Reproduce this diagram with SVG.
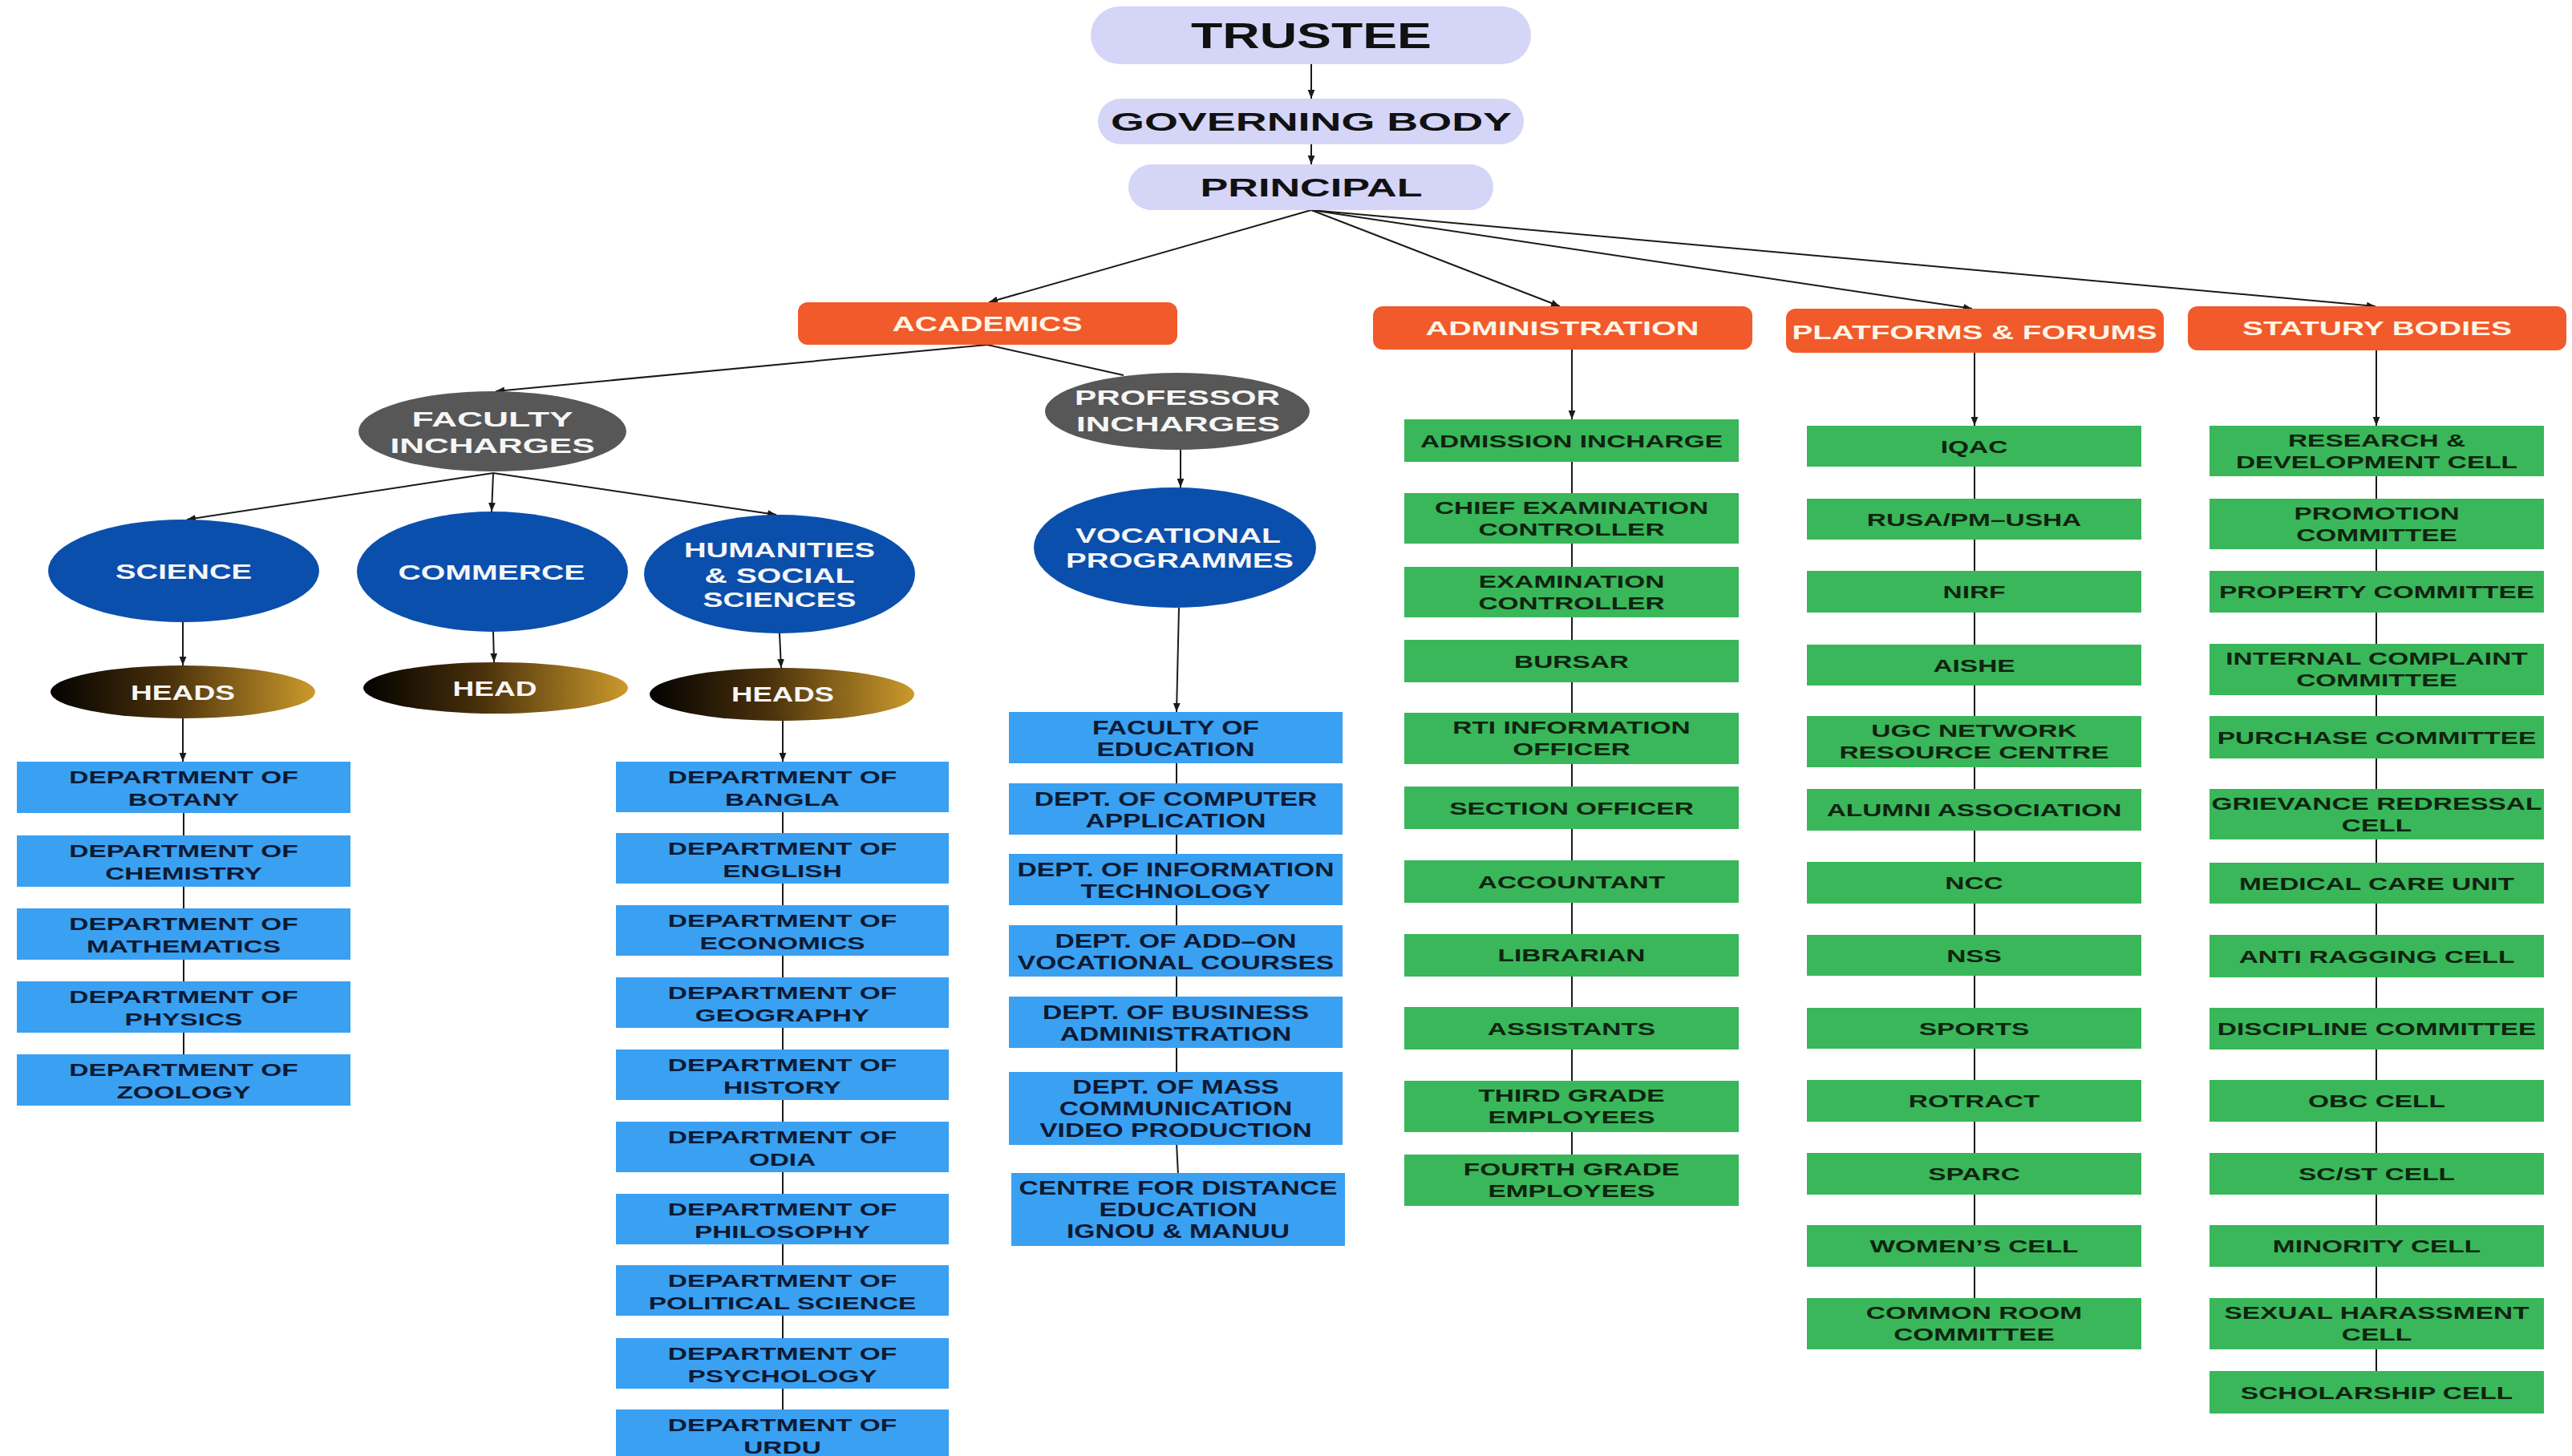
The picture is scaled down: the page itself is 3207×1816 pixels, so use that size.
<svg xmlns="http://www.w3.org/2000/svg" width="3207" height="1816" viewBox="0 0 3207 1816">
<defs>
<marker id="ah" viewBox="0 0 10 10" refX="10" refY="5" markerWidth="11" markerHeight="11" markerUnits="userSpaceOnUse" orient="auto"><path d="M0,1 L10,5 L0,9 z" fill="#1a1a1a"/></marker>
<linearGradient id="hg" x1="0" y1="0" x2="1" y2="0"><stop offset="0" stop-color="#030201"/><stop offset="0.45" stop-color="#4a310b"/><stop offset="1" stop-color="#cc9a2c"/></linearGradient>
</defs>
<style>
.ln{stroke:#1a1a1a;stroke-width:2;fill:none}
.ar{marker-end:url(#ah)}
.pill{fill:#d5d5f7}
.org{fill:#f15a2b}
.gry{fill:#575757}
.blu{fill:#0b4fad}
.hd{fill:url(#hg)}
.lb{fill:#3aa0f2}
.gr{fill:#3ab75a}
text{font-family:"Liberation Sans",Arial,sans-serif;font-weight:bold;text-anchor:middle}
.tp{font-size:32px;fill:#111}
.to{font-size:24px;fill:#fff5e6}
.te{font-size:26px;fill:#f6f6f6}
.tb{font-size:22px;fill:#0c1a33}
.tv{font-size:24px;fill:#0c1a33}
.tg{font-size:22px;fill:#0f2410}
</style>
<rect width="3207" height="1816" fill="#ffffff"/>

<g id="connectors">
<line class="ln ar" x1="1635" y1="80" x2="1635" y2="123"/>
<line class="ln ar" x1="1635" y1="180" x2="1635" y2="205"/>
<line class="ln ar" x1="1635" y1="262" x2="1233" y2="377"/>
<line class="ln ar" x1="1635" y1="262" x2="1945" y2="382"/>
<line class="ln ar" x1="1635" y1="262" x2="2459" y2="385"/>
<line class="ln ar" x1="1635" y1="262" x2="2962" y2="382"/>
<line class="ln ar" x1="1231" y1="430" x2="618" y2="488"/>
<line class="ln" x1="1231" y1="430" x2="1401" y2="468"/>
<line class="ln ar" x1="615" y1="590" x2="233" y2="648"/>
<line class="ln ar" x1="615" y1="590" x2="613" y2="638"/>
<line class="ln ar" x1="615" y1="590" x2="968" y2="642"/>
<line class="ln ar" x1="1472" y1="561" x2="1472" y2="608"/>
<line class="ln ar" x1="1470" y1="758" x2="1467" y2="888"/>
<line class="ln ar" x1="228" y1="776" x2="228" y2="830"/>
<line class="ln ar" x1="228" y1="896" x2="228" y2="950"/>
<line class="ln" x1="229" y1="1010" x2="229" y2="1320"/>
<line class="ln ar" x1="615" y1="788" x2="616" y2="826"/>
<line class="ln ar" x1="972" y1="790" x2="974" y2="833"/>
<line class="ln ar" x1="976" y1="899" x2="976" y2="950"/>
<line class="ln" x1="976" y1="1008" x2="976" y2="1816"/>
<line class="ln" x1="1467" y1="948" x2="1467" y2="1340"/>
<line class="ln" x1="1467" y1="1425" x2="1469" y2="1466"/>
<line class="ln ar" x1="1960" y1="436" x2="1960" y2="523"/>
<line class="ln" x1="1960" y1="572" x2="1960" y2="1444"/>
<line class="ln ar" x1="2462" y1="440" x2="2462" y2="531"/>
<line class="ln" x1="2462" y1="578" x2="2462" y2="1622"/>
<line class="ln ar" x1="2963" y1="437" x2="2963" y2="531"/>
<line class="ln" x1="2963" y1="590" x2="2963" y2="1714"/>
</g>

<g id="trustee"><rect class="pill" x="1360" y="8" width="549" height="72" rx="36"/><text x="1635" y="60" style="font-size:44px;fill:#111" textLength="300" lengthAdjust="spacingAndGlyphs">TRUSTEE</text></g>
<g id="governing-body"><rect class="pill" x="1369" y="123" width="531" height="57" rx="28.5"/><text class="tp" x="1635" y="163" textLength="500" lengthAdjust="spacingAndGlyphs">GOVERNING BODY</text></g>
<g id="principal"><rect class="pill" x="1407" y="205" width="455" height="57" rx="28.5"/><text class="tp" x="1635" y="245" textLength="277" lengthAdjust="spacingAndGlyphs">PRINCIPAL</text></g>

<g id="academics"><rect class="org" x="995" y="377" width="473" height="53" rx="12"/><text class="to" style="font-size:25px" x="1231" y="413" textLength="237" lengthAdjust="spacingAndGlyphs">ACADEMICS</text></g>
<g id="administration"><rect class="org" x="1712" y="382" width="473" height="54" rx="12"/><text class="to" x="1948" y="418" textLength="341" lengthAdjust="spacingAndGlyphs">ADMINISTRATION</text></g>
<g id="platforms-forums"><rect class="org" x="2227" y="385" width="471" height="55" rx="12"/><text class="to" x="2462" y="423" textLength="455" lengthAdjust="spacingAndGlyphs">PLATFORMS &amp; FORUMS</text></g>
<g id="statury-bodies"><rect class="org" x="2728" y="382" width="472" height="55" rx="12"/><text class="to" x="2964" y="418" textLength="336" lengthAdjust="spacingAndGlyphs">STATURY BODIES</text></g>

<g id="faculty-incharges"><ellipse class="gry" cx="614" cy="538" rx="167" ry="50"/><text class="te" x="614" y="532" textLength="201" lengthAdjust="spacingAndGlyphs">FACULTY</text><text class="te" x="614" y="565" textLength="255" lengthAdjust="spacingAndGlyphs">INCHARGES</text></g>
<g id="professor-incharges"><ellipse class="gry" cx="1468" cy="513" rx="165" ry="48"/><text class="te" x="1468" y="505" textLength="256" lengthAdjust="spacingAndGlyphs">PROFESSOR</text><text class="te" x="1469" y="538" textLength="254" lengthAdjust="spacingAndGlyphs">INCHARGES</text></g>
<g id="science"><ellipse class="blu" cx="229" cy="712" rx="169" ry="64"/><text class="te" x="229" y="722" textLength="170" lengthAdjust="spacingAndGlyphs">SCIENCE</text></g>
<g id="commerce"><ellipse class="blu" cx="614" cy="713" rx="169" ry="75"/><text class="te" x="613" y="723" textLength="233" lengthAdjust="spacingAndGlyphs">COMMERCE</text></g>
<g id="humanities"><ellipse class="blu" cx="972" cy="716" rx="169" ry="74"/><text class="te" x="972" y="695" textLength="238" lengthAdjust="spacingAndGlyphs">HUMANITIES</text><text class="te" x="972" y="727" textLength="187" lengthAdjust="spacingAndGlyphs">&amp; SOCIAL</text><text class="te" x="972" y="757" textLength="191" lengthAdjust="spacingAndGlyphs">SCIENCES</text></g>
<g id="vocational"><ellipse class="blu" cx="1465" cy="683" rx="176" ry="75"/><text class="te" x="1469" y="677" textLength="256" lengthAdjust="spacingAndGlyphs">VOCATIONAL</text><text class="te" x="1471" y="708" textLength="284" lengthAdjust="spacingAndGlyphs">PROGRAMMES</text></g>
<g id="heads-science"><ellipse class="hd" cx="228" cy="863" rx="165" ry="33"/><text class="te" x="228" y="873" textLength="130" lengthAdjust="spacingAndGlyphs">HEADS</text></g>
<g id="head-commerce"><ellipse class="hd" cx="618" cy="858" rx="165" ry="32"/><text class="te" x="617" y="868" textLength="105" lengthAdjust="spacingAndGlyphs">HEAD</text></g>
<g id="heads-humanities"><ellipse class="hd" cx="975" cy="866" rx="165" ry="33"/><text class="te" x="976" y="875" textLength="128" lengthAdjust="spacingAndGlyphs">HEADS</text></g>

<g id="dept-botany"><rect class="lb" x="21" y="950" width="416" height="64"/><text class="tb" transform="translate(229 977) scale(1.52 1)">DEPARTMENT OF</text><text class="tb" transform="translate(229 1005) scale(1.52 1)">BOTANY</text></g>
<g id="dept-chemistry"><rect class="lb" x="21" y="1042" width="416" height="64"/><text class="tb" transform="translate(229 1069) scale(1.52 1)">DEPARTMENT OF</text><text class="tb" transform="translate(229 1097) scale(1.52 1)">CHEMISTRY</text></g>
<g id="dept-mathematics"><rect class="lb" x="21" y="1133" width="416" height="64"/><text class="tb" transform="translate(229 1160) scale(1.52 1)">DEPARTMENT OF</text><text class="tb" transform="translate(229 1188) scale(1.52 1)">MATHEMATICS</text></g>
<g id="dept-physics"><rect class="lb" x="21" y="1224" width="416" height="64"/><text class="tb" transform="translate(229 1251) scale(1.52 1)">DEPARTMENT OF</text><text class="tb" transform="translate(229 1279) scale(1.52 1)">PHYSICS</text></g>
<g id="dept-zoology"><rect class="lb" x="21" y="1315" width="416" height="64"/><text class="tb" transform="translate(229 1342) scale(1.52 1)">DEPARTMENT OF</text><text class="tb" transform="translate(229 1370) scale(1.52 1)">ZOOLOGY</text></g>

<g id="dept-bangla"><rect class="lb" x="768" y="950" width="415" height="63"/><text class="tb" transform="translate(975.5 976.5) scale(1.52 1)">DEPARTMENT OF</text><text class="tb" transform="translate(975.5 1004.5) scale(1.52 1)">BANGLA</text></g>
<g id="dept-english"><rect class="lb" x="768" y="1039" width="415" height="63"/><text class="tb" transform="translate(975.5 1065.5) scale(1.52 1)">DEPARTMENT OF</text><text class="tb" transform="translate(975.5 1093.5) scale(1.52 1)">ENGLISH</text></g>
<g id="dept-economics"><rect class="lb" x="768" y="1129" width="415" height="63"/><text class="tb" transform="translate(975.5 1155.5) scale(1.52 1)">DEPARTMENT OF</text><text class="tb" transform="translate(975.5 1183.5) scale(1.52 1)">ECONOMICS</text></g>
<g id="dept-geography"><rect class="lb" x="768" y="1219" width="415" height="63"/><text class="tb" transform="translate(975.5 1245.5) scale(1.52 1)">DEPARTMENT OF</text><text class="tb" transform="translate(975.5 1273.5) scale(1.52 1)">GEOGRAPHY</text></g>
<g id="dept-history"><rect class="lb" x="768" y="1309" width="415" height="63"/><text class="tb" transform="translate(975.5 1335.5) scale(1.52 1)">DEPARTMENT OF</text><text class="tb" transform="translate(975.5 1363.5) scale(1.52 1)">HISTORY</text></g>
<g id="dept-odia"><rect class="lb" x="768" y="1399" width="415" height="63"/><text class="tb" transform="translate(975.5 1425.5) scale(1.52 1)">DEPARTMENT OF</text><text class="tb" transform="translate(975.5 1453.5) scale(1.52 1)">ODIA</text></g>
<g id="dept-philosophy"><rect class="lb" x="768" y="1489" width="415" height="63"/><text class="tb" transform="translate(975.5 1515.5) scale(1.52 1)">DEPARTMENT OF</text><text class="tb" transform="translate(975.5 1543.5) scale(1.52 1)">PHILOSOPHY</text></g>
<g id="dept-political-science"><rect class="lb" x="768" y="1578" width="415" height="63"/><text class="tb" transform="translate(975.5 1604.5) scale(1.52 1)">DEPARTMENT OF</text><text class="tb" transform="translate(975.5 1632.5) scale(1.52 1)">POLITICAL SCIENCE</text></g>
<g id="dept-psychology"><rect class="lb" x="768" y="1669" width="415" height="63"/><text class="tb" transform="translate(975.5 1695.5) scale(1.52 1)">DEPARTMENT OF</text><text class="tb" transform="translate(975.5 1723.5) scale(1.52 1)">PSYCHOLOGY</text></g>
<g id="dept-urdu"><rect class="lb" x="768" y="1758" width="415" height="63"/><text class="tb" transform="translate(975.5 1785) scale(1.52 1)">DEPARTMENT OF</text><text class="tb" transform="translate(975.5 1813) scale(1.52 1)">URDU</text></g>

<g id="faculty-education"><rect class="lb" x="1258" y="888" width="416" height="64"/><text class="tv" transform="translate(1466 916) scale(1.4 1)">FACULTY OF</text><text class="tv" transform="translate(1466 943) scale(1.4 1)">EDUCATION</text></g>
<g id="dept-computer"><rect class="lb" x="1258" y="977" width="416" height="64"/><text class="tv" transform="translate(1466 1005) scale(1.4 1)">DEPT. OF COMPUTER</text><text class="tv" transform="translate(1466 1032) scale(1.4 1)">APPLICATION</text></g>
<g id="dept-it"><rect class="lb" x="1258" y="1065" width="416" height="64"/><text class="tv" transform="translate(1466 1093) scale(1.4 1)">DEPT. OF INFORMATION</text><text class="tv" transform="translate(1466 1120) scale(1.4 1)">TECHNOLOGY</text></g>
<g id="dept-addon"><rect class="lb" x="1258" y="1154" width="416" height="64"/><text class="tv" transform="translate(1466 1182) scale(1.4 1)">DEPT. OF ADD–ON</text><text class="tv" transform="translate(1466 1209) scale(1.4 1)">VOCATIONAL COURSES</text></g>
<g id="dept-business"><rect class="lb" x="1258" y="1243" width="416" height="64"/><text class="tv" transform="translate(1466 1271) scale(1.4 1)">DEPT. OF BUSINESS</text><text class="tv" transform="translate(1466 1298) scale(1.4 1)">ADMINISTRATION</text></g>
<g id="dept-mass-comm"><rect class="lb" x="1258" y="1337" width="416" height="91"/><text class="tv" transform="translate(1466 1364) scale(1.4 1)">DEPT. OF MASS</text><text class="tv" transform="translate(1466 1391) scale(1.4 1)">COMMUNICATION</text><text class="tv" transform="translate(1466 1418) scale(1.4 1)">VIDEO PRODUCTION</text></g>
<g id="distance-education"><rect class="lb" x="1261" y="1463" width="416" height="91"/><text class="tv" transform="translate(1469 1490) scale(1.4 1)">CENTRE FOR DISTANCE</text><text class="tv" transform="translate(1469 1517) scale(1.4 1)">EDUCATION</text><text class="tv" transform="translate(1469 1544) scale(1.4 1)">IGNOU &amp; MANUU</text></g>

<g id="admission-incharge"><rect class="gr" x="1751" y="523" width="417" height="53"/><text class="tg" transform="translate(1959.5 557.5) scale(1.52 1)">ADMISSION INCHARGE</text></g>
<g id="chief-exam-controller"><rect class="gr" x="1751" y="615" width="417" height="63"/><text class="tg" transform="translate(1959.5 640.5) scale(1.52 1)">CHIEF EXAMINATION</text><text class="tg" transform="translate(1959.5 667.5) scale(1.52 1)">CONTROLLER</text></g>
<g id="exam-controller"><rect class="gr" x="1751" y="707" width="417" height="63"/><text class="tg" transform="translate(1959.5 732.5) scale(1.52 1)">EXAMINATION</text><text class="tg" transform="translate(1959.5 759.5) scale(1.52 1)">CONTROLLER</text></g>
<g id="bursar"><rect class="gr" x="1751" y="798" width="417" height="53"/><text class="tg" transform="translate(1959.5 832.5) scale(1.52 1)">BURSAR</text></g>
<g id="rti-officer"><rect class="gr" x="1751" y="889" width="417" height="64"/><text class="tg" transform="translate(1959.5 915) scale(1.52 1)">RTI INFORMATION</text><text class="tg" transform="translate(1959.5 942) scale(1.52 1)">OFFICER</text></g>
<g id="section-officer"><rect class="gr" x="1751" y="981" width="417" height="53"/><text class="tg" transform="translate(1959.5 1015.5) scale(1.52 1)">SECTION OFFICER</text></g>
<g id="accountant"><rect class="gr" x="1751" y="1073" width="417" height="53"/><text class="tg" transform="translate(1959.5 1107.5) scale(1.52 1)">ACCOUNTANT</text></g>
<g id="librarian"><rect class="gr" x="1751" y="1165" width="417" height="53"/><text class="tg" transform="translate(1959.5 1199) scale(1.52 1)">LIBRARIAN</text></g>
<g id="assistants"><rect class="gr" x="1751" y="1256" width="417" height="53"/><text class="tg" transform="translate(1959.5 1290.5) scale(1.52 1)">ASSISTANTS</text></g>
<g id="third-grade"><rect class="gr" x="1751" y="1348" width="417" height="64"/><text class="tg" transform="translate(1959.5 1374) scale(1.52 1)">THIRD GRADE</text><text class="tg" transform="translate(1959.5 1401) scale(1.52 1)">EMPLOYEES</text></g>
<g id="fourth-grade"><rect class="gr" x="1751" y="1440" width="417" height="64"/><text class="tg" transform="translate(1959.5 1466) scale(1.52 1)">FOURTH GRADE</text><text class="tg" transform="translate(1959.5 1493) scale(1.52 1)">EMPLOYEES</text></g>

<g id="iqac"><rect class="gr" x="2253" y="531" width="417" height="51"/><text class="tg" transform="translate(2461.5 564.5) scale(1.52 1)">IQAC</text></g>
<g id="rusa"><rect class="gr" x="2253" y="622" width="417" height="51"/><text class="tg" transform="translate(2461.5 655.5) scale(1.52 1)">RUSA/PM–USHA</text></g>
<g id="nirf"><rect class="gr" x="2253" y="712" width="417" height="52"/><text class="tg" transform="translate(2461.5 746) scale(1.52 1)">NIRF</text></g>
<g id="aishe"><rect class="gr" x="2253" y="804" width="417" height="51"/><text class="tg" transform="translate(2461.5 837.5) scale(1.52 1)">AISHE</text></g>
<g id="ugc-network"><rect class="gr" x="2253" y="893" width="417" height="64"/><text class="tg" transform="translate(2461.5 919) scale(1.52 1)">UGC NETWORK</text><text class="tg" transform="translate(2461.5 946) scale(1.52 1)">RESOURCE CENTRE</text></g>
<g id="alumni"><rect class="gr" x="2253" y="984" width="417" height="52"/><text class="tg" transform="translate(2461.5 1018) scale(1.52 1)">ALUMNI ASSOCIATION</text></g>
<g id="ncc"><rect class="gr" x="2253" y="1075" width="417" height="52"/><text class="tg" transform="translate(2461.5 1109) scale(1.52 1)">NCC</text></g>
<g id="nss"><rect class="gr" x="2253" y="1166" width="417" height="51"/><text class="tg" transform="translate(2461.5 1199.5) scale(1.52 1)">NSS</text></g>
<g id="sports"><rect class="gr" x="2253" y="1257" width="417" height="51"/><text class="tg" transform="translate(2461.5 1290.5) scale(1.52 1)">SPORTS</text></g>
<g id="rotract"><rect class="gr" x="2253" y="1347" width="417" height="52"/><text class="tg" transform="translate(2461.5 1381) scale(1.52 1)">ROTRACT</text></g>
<g id="sparc"><rect class="gr" x="2253" y="1438" width="417" height="52"/><text class="tg" transform="translate(2461.5 1472) scale(1.52 1)">SPARC</text></g>
<g id="womens-cell"><rect class="gr" x="2253" y="1528" width="417" height="52"/><text class="tg" transform="translate(2461.5 1562) scale(1.52 1)">WOMEN’S CELL</text></g>
<g id="common-room"><rect class="gr" x="2253" y="1619" width="417" height="64"/><text class="tg" transform="translate(2461.5 1645) scale(1.52 1)">COMMON ROOM</text><text class="tg" transform="translate(2461.5 1672) scale(1.52 1)">COMMITTEE</text></g>

<g id="research-cell"><rect class="gr" x="2755" y="531" width="417" height="63"/><text class="tg" transform="translate(2963.5 556.5) scale(1.52 1)">RESEARCH &amp;</text><text class="tg" transform="translate(2963.5 583.5) scale(1.52 1)">DEVELOPMENT CELL</text></g>
<g id="promotion-committee"><rect class="gr" x="2755" y="622" width="417" height="63"/><text class="tg" transform="translate(2963.5 647.5) scale(1.52 1)">PROMOTION</text><text class="tg" transform="translate(2963.5 674.5) scale(1.52 1)">COMMITTEE</text></g>
<g id="property-committee"><rect class="gr" x="2755" y="712" width="417" height="52"/><text class="tg" transform="translate(2963.5 746) scale(1.52 1)">PROPERTY COMMITTEE</text></g>
<g id="internal-complaint"><rect class="gr" x="2755" y="803" width="417" height="64"/><text class="tg" transform="translate(2963.5 829) scale(1.52 1)">INTERNAL COMPLAINT</text><text class="tg" transform="translate(2963.5 856) scale(1.52 1)">COMMITTEE</text></g>
<g id="purchase-committee"><rect class="gr" x="2755" y="893" width="417" height="53"/><text class="tg" transform="translate(2963.5 927.5) scale(1.52 1)">PURCHASE COMMITTEE</text></g>
<g id="grievance-cell"><rect class="gr" x="2755" y="984" width="417" height="63"/><text class="tg" transform="translate(2963.5 1009.5) scale(1.52 1)">GRIEVANCE REDRESSAL</text><text class="tg" transform="translate(2963.5 1036.5) scale(1.52 1)">CELL</text></g>
<g id="medical-care"><rect class="gr" x="2755" y="1076" width="417" height="51"/><text class="tg" transform="translate(2963.5 1109.5) scale(1.52 1)">MEDICAL CARE UNIT</text></g>
<g id="anti-ragging"><rect class="gr" x="2755" y="1166" width="417" height="53"/><text class="tg" transform="translate(2963.5 1200.5) scale(1.52 1)">ANTI RAGGING CELL</text></g>
<g id="discipline-committee"><rect class="gr" x="2755" y="1257" width="417" height="52"/><text class="tg" transform="translate(2963.5 1291) scale(1.52 1)">DISCIPLINE COMMITTEE</text></g>
<g id="obc-cell"><rect class="gr" x="2755" y="1347" width="417" height="52"/><text class="tg" transform="translate(2963.5 1381) scale(1.52 1)">OBC CELL</text></g>
<g id="scst-cell"><rect class="gr" x="2755" y="1438" width="417" height="52"/><text class="tg" transform="translate(2963.5 1472) scale(1.52 1)">SC/ST CELL</text></g>
<g id="minority-cell"><rect class="gr" x="2755" y="1528" width="417" height="52"/><text class="tg" transform="translate(2963.5 1562) scale(1.52 1)">MINORITY CELL</text></g>
<g id="sexual-harassment"><rect class="gr" x="2755" y="1619" width="417" height="64"/><text class="tg" transform="translate(2963.5 1645) scale(1.52 1)">SEXUAL HARASSMENT</text><text class="tg" transform="translate(2963.5 1672) scale(1.52 1)">CELL</text></g>
<g id="scholarship-cell"><rect class="gr" x="2755" y="1710" width="417" height="53"/><text class="tg" transform="translate(2963.5 1744.5) scale(1.52 1)">SCHOLARSHIP CELL</text></g>
</svg>
